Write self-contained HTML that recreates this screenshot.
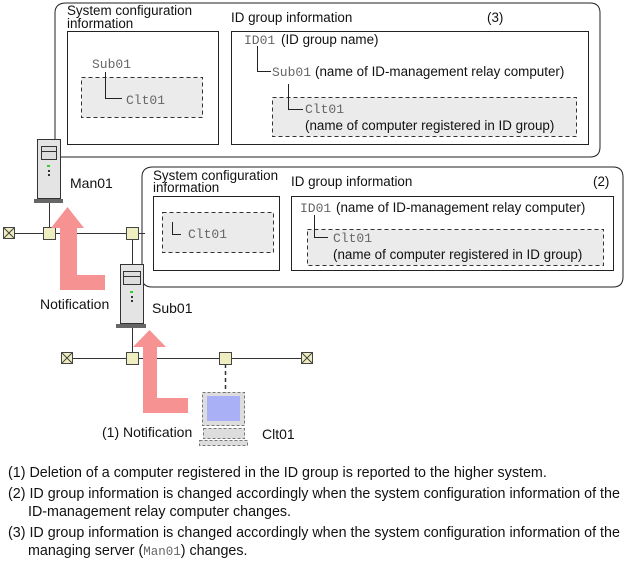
<!DOCTYPE html>
<html><head><style>
html,body{margin:0;padding:0;background:#fff;}
svg{display:block;}
text{font-family:"Liberation Sans",sans-serif;font-size:13.4px;fill:#111;}
.m{font-family:"Liberation Mono",monospace;font-size:13px;fill:#666;}
.b{font-size:14.3px;}
</style></head><body>
<svg width="629" height="565" viewBox="0 0 629 565" xmlns="http://www.w3.org/2000/svg">
<!-- box (3) -->
<path d="M66,3 H590 Q600,3 600,13 V147 Q600,157 590,157 H55 V13 Q55,3 66,3 Z" fill="#fff" stroke="#222" stroke-width="1"/>
<text x="67" y="15">System configuration</text>
<text x="67" y="28">information</text>
<rect x="67.5" y="31.5" width="151" height="113" fill="#fff" stroke="#222"/>
<rect x="81.5" y="77.5" width="121" height="40" fill="#ebebeb" stroke="#333" stroke-dasharray="4,3"/>
<text class="m" x="92" y="68">Sub01</text>
<path d="M105.5,72 V98.5 H122" fill="none" stroke="#222"/>
<text class="m" x="126" y="104">Clt01</text>
<text x="231" y="22">ID group information</text>
<text x="487" y="22">(3)</text>
<rect x="231.5" y="31.5" width="357" height="113" fill="#fff" stroke="#222"/>
<text class="m" x="244" y="44">ID01</text><text x="281" y="44">(ID group name)</text>
<path d="M257.5,46 V71.5 H271" fill="none" stroke="#222"/>
<text class="m" x="272" y="76">Sub01</text><text x="315" y="76">(name of ID-management relay computer)</text>
<rect x="272.5" y="97.5" width="304" height="39" fill="#ebebeb" stroke="#333" stroke-dasharray="4,3"/>
<path d="M288.5,84 V109.5 H303" fill="none" stroke="#222"/>
<text class="m" x="305" y="113">Clt01</text>
<text x="305" y="130">(name of computer registered in ID group)</text>

<!-- box (2) -->
<path d="M153,167 H613 Q623,167 623,177 V277 Q623,287 613,287 H152 Q142,287 142,277 V177 Q142,167 153,167 Z" fill="#fff" stroke="#222"/>
<text x="153" y="180">System configuration</text>
<text x="153" y="192">information</text>
<rect x="153.5" y="196.5" width="126" height="74" fill="#fff" stroke="#222"/>
<rect x="162.5" y="212.5" width="111" height="40" fill="#ebebeb" stroke="#333" stroke-dasharray="4,3"/>
<path d="M172.5,222 V234.5 H181" fill="none" stroke="#222"/>
<text class="m" x="188" y="238">Clt01</text>
<text x="291" y="186">ID group information</text>
<text x="593" y="186">(2)</text>
<rect x="291.5" y="196.5" width="322" height="74" fill="#fff" stroke="#222"/>
<text class="m" x="300" y="212">ID01</text><text x="336" y="212">(name of ID-management relay computer)</text>
<rect x="307.5" y="229.5" width="296" height="36" fill="#ebebeb" stroke="#333" stroke-dasharray="4,3"/>
<path d="M314.5,215 V237.5 H328" fill="none" stroke="#222"/>
<text class="m" x="333" y="242">Clt01</text>
<text x="333" y="259">(name of computer registered in ID group)</text>

<!-- network lines -->
<line x1="10" y1="233.5" x2="145" y2="233.5" stroke="#333"/>
<line x1="49.5" y1="200" x2="49.5" y2="228" stroke="#333"/>
<line x1="132.5" y1="233" x2="132.5" y2="358" stroke="#333"/>
<line x1="65" y1="358.5" x2="312" y2="358.5" stroke="#333"/>
<line x1="225.5" y1="364" x2="225.5" y2="393" stroke="#333" stroke-dasharray="4,3" stroke-width="1.5"/>

<!-- terminators & nodes -->
<g stroke="#444" fill="#eeeec0">
<rect x="3.5" y="227.5" width="11" height="11"/><path d="M3.5,227.5 L14.5,238.5 M14.5,227.5 L3.5,238.5" fill="none"/>
<rect x="43.5" y="227.5" width="12" height="12"/>
<rect x="126.5" y="227.5" width="12" height="12"/>
<rect x="61.5" y="352.5" width="11" height="11"/><path d="M61.5,352.5 L72.5,363.5 M72.5,352.5 L61.5,363.5" fill="none"/>
<rect x="126.5" y="352.5" width="12" height="12"/>
<rect x="219.5" y="352.5" width="12" height="12"/>
<rect x="301.5" y="352.5" width="11" height="11"/><path d="M301.5,352.5 L312.5,363.5 M312.5,352.5 L301.5,363.5" fill="none"/>
</g>

<!-- arrows -->
<path d="M51,228 L67.5,207 L84,228 L77,228 L77,275 L105,275 L105,290 L60,290 L60,228 Z" fill="#f79292"/>
<path d="M133,347 L149.5,330 L166,347 L157,347 L157,398 L188,398 L188,413 L143,413 L143,347 Z" fill="#f79292"/>

<!-- servers -->
<g>
<rect x="37.5" y="139.5" width="23" height="59" fill="#e4e4e4" stroke="#333"/>
<rect x="41.5" y="146.5" width="15" height="13" fill="#ddd" stroke="#333"/>
<line x1="42" y1="151.5" x2="56" y2="151.5" stroke="#333"/>
<rect x="47" y="165" width="3" height="2" fill="#3c3"/><rect x="48" y="170" width="2" height="2" fill="#333"/><rect x="48" y="174" width="2" height="2" fill="#333"/>
<rect x="34" y="199" width="29" height="4" fill="#666"/>
</g>
<g>
<rect x="120.5" y="264.5" width="23" height="59" fill="#e4e4e4" stroke="#333"/>
<rect x="123.5" y="271.5" width="17" height="13" fill="#ddd" stroke="#333"/>
<line x1="124" y1="276.5" x2="140" y2="276.5" stroke="#333"/>
<rect x="130" y="291" width="3" height="2" fill="#3c3"/><rect x="131" y="296" width="2" height="2" fill="#333"/><rect x="131" y="300" width="2" height="2" fill="#333"/>
<rect x="116" y="324" width="30" height="4" fill="#666"/>
</g>
<!-- client -->
<g>
<rect x="202.5" y="392.5" width="42" height="33" fill="#ddd" stroke="#777" stroke-dasharray="3,2"/>
<rect x="207" y="396" width="33" height="25" fill="#aab0f5"/>
<rect x="203.5" y="428.5" width="41" height="10" fill="#ddd" stroke="#777" stroke-dasharray="3,2"/>
<rect x="199.5" y="440.5" width="48" height="5" fill="#ddd" stroke="#777" stroke-dasharray="3,2"/>
</g>

<!-- labels -->
<text x="70" y="188" style="font-size:14px">Man01</text>
<text x="40" y="309" style="font-size:14px">Notification</text>
<text x="152" y="313" style="font-size:14px">Sub01</text>
<text x="102" y="437" style="font-size:14px">(1) Notification</text>
<text x="262" y="439" style="font-size:14px">Clt01</text>

<text class="b" x="8" y="477">(1) Deletion of a computer registered in the ID group is reported to the higher system.</text>
<text class="b" x="8" y="498">(2) ID group information is changed accordingly when the system configuration information of the</text>
<text class="b" x="28" y="516">ID-management relay computer changes.</text>
<text class="b" x="8" y="537">(3) ID group information is changed accordingly when the system configuration information of the</text>
<text class="b" x="28" y="555">managing server (<tspan class="m" style="font-size:12.5px">Man01</tspan>) changes.</text>
</svg>
</body></html>
